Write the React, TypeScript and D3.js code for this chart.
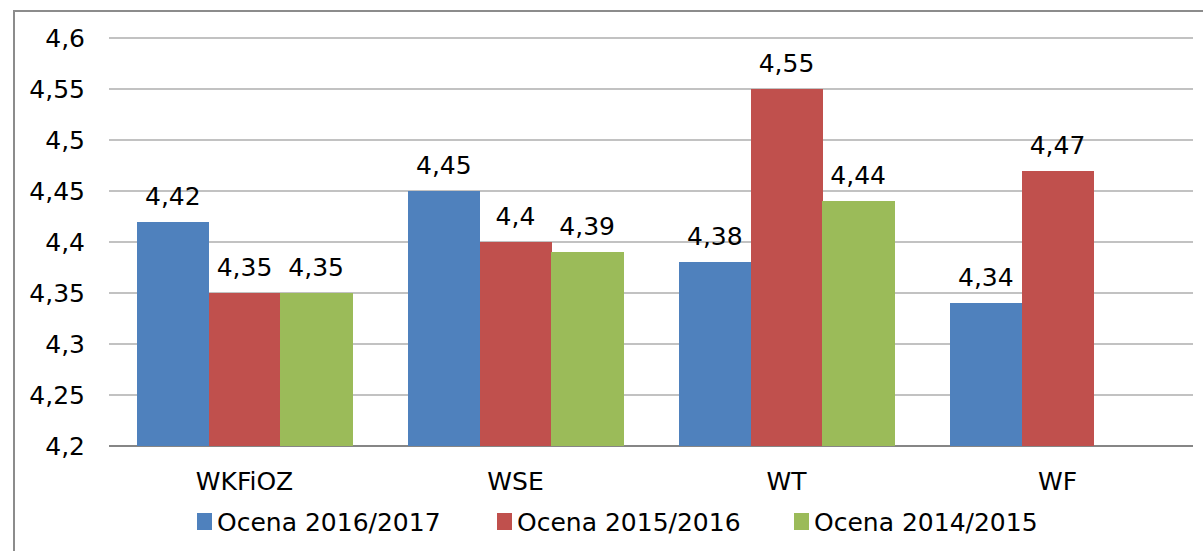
import React from "react";
import * as d3 from "d3";

const width = 1203;
const height = 551;

const categories = ["WKFiOZ", "WSE", "WT", "WF"];
const seriesNames = ["Ocena 2016/2017", "Ocena 2015/2016", "Ocena 2014/2015"];
const colors = ["#4F81BD", "#C0504D", "#9BBB59"];
const ocena2016 = [4.42, 4.45, 4.38, 4.34];
const ocena2015 = [4.35, 4.4, 4.55, 4.47];
const ocena2014 = [4.35, 4.39, 4.44, null];
const yTicks = [4.2, 4.25, 4.3, 4.35, 4.4, 4.45, 4.5, 4.55, 4.6];

const series = [ocena2016, ocena2015, ocena2014];
const fmt = (v: number) => String(v).replace(".", ",");
const font = "'DejaVu Sans', Verdana, sans-serif";

export default function App() {
  const x0 = d3
    .scaleBand<string>()
    .domain(categories)
    .range([109, 1193])
    .paddingInner(0.2066)
    .paddingOuter(0.1033);
  const x1 = d3
    .scaleBand<number>()
    .domain(d3.range(series.length))
    .range([0, x0.bandwidth()]);
  const y = d3.scaleLinear().domain([4.2, 4.6]).range([446, 38]);

  const legendX = [197, 497, 794];

  return (
    <div style={{ position: "absolute", left: 0, top: 0 }}>
      <svg width={width} height={height} style={{ display: "block", fontFamily: font }}>
        <rect x={0} y={0} width={width} height={height} fill="#fff" />
        {/* chart frame */}
        <rect x={14} y={11} width={width + 20} height={height + 20} fill="none" stroke="#8c8c8c" strokeWidth={2} />

        {/* gridlines */}
        {yTicks.map((t, i) => (
          <line
            key={t}
            x1={109}
            x2={1193}
            y1={y(t)}
            y2={y(t)}
            stroke="#868686"
            strokeWidth={i === 0 ? 2 : 1.2}
          />
        ))}
        {yTicks.map((t) => (
          <text key={"l" + t} x={85} y={y(t)} textAnchor="end" dominantBaseline="central" fontSize={25} fill="#000">
            {fmt(t)}
          </text>
        ))}

        {/* bars */}
        {categories.map((c, ci) => (
          <g key={c} transform={`translate(${x0(c)},0)`}>
            {series.map((s, si) => {
              const v = s[ci];
              if (v == null) return null;
              const bx = x1(si)!;
              return (
                <g key={si}>
                  <rect
                    x={bx}
                    y={y(v)}
                    width={x1.bandwidth() + 0.5}
                    height={y(4.2) - y(v)}
                    fill={colors[si]}
                    shapeRendering="crispEdges"
                  />
                  <text
                    x={bx + x1.bandwidth() / 2}
                    y={y(v) - 17}
                    textAnchor="middle"
                    fontSize={25}
                    fill="#000"
                  >
                    {fmt(v)}
                  </text>
                </g>
              );
            })}
          </g>
        ))}

        {/* category labels */}
        {categories.map((c) => (
          <text key={"c" + c} x={x0(c)! + x0.bandwidth() / 2} y={490} textAnchor="middle" fontSize={25} fill="#000">
            {c}
          </text>
        ))}

        {/* legend */}
        {seriesNames.map((n, i) => (
          <g key={n}>
            <rect x={legendX[i]} y={513} width={15} height={17} fill={colors[i]} />
            <text x={legendX[i] + 20} y={531} fontSize={25} fill="#000">
              {n}
            </text>
          </g>
        ))}
      </svg>
    </div>
  );
}
